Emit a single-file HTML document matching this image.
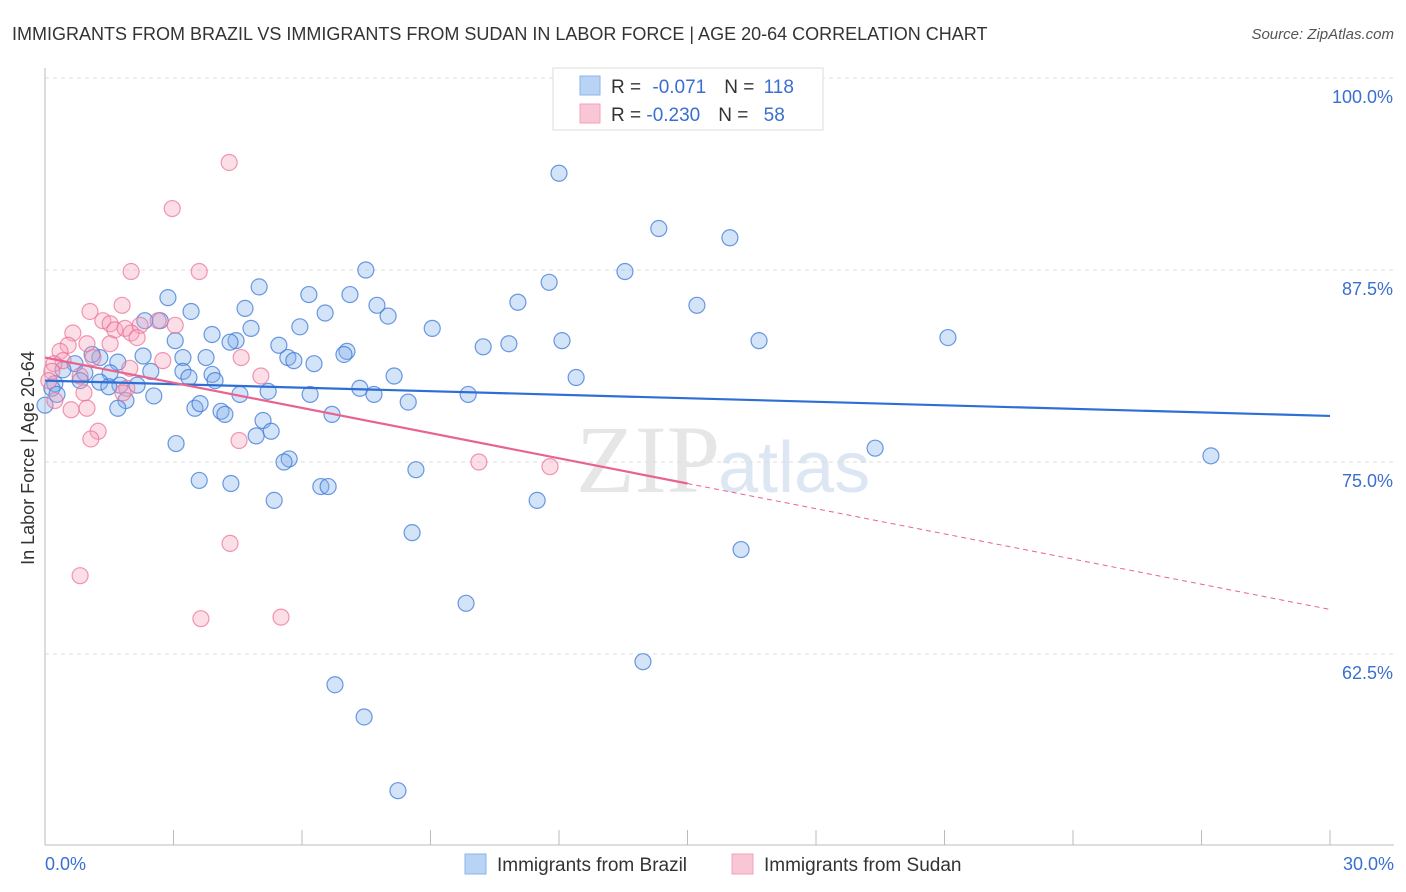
<!DOCTYPE html>
<html><head><meta charset="utf-8"><style>
body{margin:0;background:#fff;font-family:"Liberation Sans",sans-serif;}
#wrap{position:relative;width:1406px;height:892px;overflow:hidden;}
</style></head><body>
<div id="wrap">
<svg id="svg" width="1406" height="892" xmlns="http://www.w3.org/2000/svg">
<text x="12" y="40" font-size="18" fill="#333">IMMIGRANTS FROM BRAZIL VS IMMIGRANTS FROM SUDAN IN LABOR FORCE | AGE 20-64 CORRELATION CHART</text>
<text x="1394" y="39" font-size="15" fill="#555" font-style="italic" text-anchor="end">Source: ZipAtlas.com</text>
<text x="720" y="492" font-size="96" fill="#e6e6e6" font-family="Liberation Serif" text-anchor="end">ZIP</text>
<text x="718" y="492" font-size="72" fill="#dde6f3">atlas</text>
<g id="grid"></g>
<g id="axes"></g>
<g id="pts"></g>
<g id="trend"></g>
<text transform="translate(34,458) rotate(-90)" font-size="18" fill="#333" text-anchor="middle">In Labor Force | Age 20-64</text>
<g>
<rect x="553" y="68" width="270" height="62" fill="#fff" stroke="#ddd"/>
<rect x="580" y="76" width="20" height="19" fill="#b9d3f5" stroke="#8ab4ea"/>
<rect x="580" y="104" width="20" height="19" fill="#f9c6d5" stroke="#f1a2b9"/>
<text x="611" y="93" font-size="19" fill="#333">R = <tspan fill="#3a6fd0" dx="6">-0.071</tspan><tspan dx="18">N = </tspan><tspan fill="#3a6fd0" dx="4">118</tspan></text>
<text x="611" y="121" font-size="19" fill="#333">R = <tspan fill="#3a6fd0">-0.230</tspan><tspan dx="18">N = </tspan><tspan fill="#3a6fd0" dx="10">58</tspan></text>
</g>
<g>
<rect x="465" y="854" width="21" height="20" fill="#b9d3f5" stroke="#8ab4ea"/>
<text x="497" y="871" font-size="19" fill="#333">Immigrants from Brazil</text>
<rect x="732" y="854" width="21" height="20" fill="#f9c6d5" stroke="#f1a2b9"/>
<text x="764" y="871" font-size="19" fill="#333">Immigrants from Sudan</text>
</g>
</svg>
</div>
<script>
const brazilX=[12.0,14.33,15.99,7.49,13.54,11.77,5.0,2.87,6.16,7.12,11.04,15.22,4.67,3.41,7.75,8.01,6.54,5.95,9.04,4.81,3.9,4.46,4.32,3.04,12.07,16.67,21.08,10.83,10.23,2.33,2.69,7.05,6.98,5.46,3.76,3.22,5.67,5.81,6.28,2.29,1.28,1.7,0.7,1.1,0.93,1.52,0.42,2.47,3.22,3.9,3.36,3.97,8.15,12.4,0.23,0.82,1.75,1.28,2.15,1.49,2.54,4.55,5.21,7.35,7.68,6.19,8.48,9.88,1.89,1.7,3.5,3.62,4.11,4.2,5.09,6.7,4.93,5.28,3.06,19.38,27.22,5.7,5.58,8.66,3.6,4.34,6.44,6.61,5.35,11.49,8.57,16.25,9.83,13.96,6.77,7.45,8.24,0.16,0.28,0.0];
const brazilY=[93.8,90.2,89.6,87.5,87.4,86.7,86.4,85.7,85.9,85.9,85.4,85.2,85.0,84.8,85.2,84.5,84.7,83.8,83.7,83.7,83.3,82.9,82.8,82.9,82.9,82.9,83.1,82.7,82.5,84.2,84.2,82.2,82.0,82.6,81.8,81.8,81.8,81.6,81.4,81.9,81.8,81.5,81.4,82.0,80.8,80.8,81.0,80.9,80.9,80.7,80.5,80.3,80.6,80.5,80.1,80.3,80.0,80.2,80.0,79.9,79.3,79.4,79.6,79.8,79.4,79.4,78.9,79.4,79.0,78.5,78.5,78.8,78.3,78.1,77.7,78.1,76.7,77.0,76.2,75.9,75.4,75.2,75.0,74.5,73.8,73.6,73.4,73.4,72.5,72.5,70.4,69.3,65.8,62.0,60.5,58.4,53.6,79.8,79.4,78.7];
const sudanX=[4.3,2.97,2.01,3.6,1.8,1.05,1.35,1.52,1.63,1.87,2.22,2.64,3.04,0.65,0.98,1.52,2.01,2.15,0.54,0.35,0.42,1.12,4.58,2.75,0.21,0.16,0.82,1.98,1.91,5.04,1.82,0.23,0.91,0.61,0.98,1.24,1.07,4.53,10.13,11.79,4.32,0.82,3.64,5.51,0.09];
const sudanY=[94.5,91.5,87.4,87.4,85.2,84.8,84.2,84.0,83.6,83.7,83.9,84.2,83.9,83.4,82.7,82.7,83.4,83.1,82.6,82.2,81.6,81.8,81.8,81.6,81.4,80.9,80.6,81.1,79.8,80.6,79.5,79.0,79.5,78.4,78.5,77.0,76.5,76.4,75.0,74.7,69.7,67.6,64.8,64.9,80.3];
const trendBrazil=[80.3,78.0];
const trendSudan=[81.8,65.4];
const yTicks=[100,87.5,75,62.5];
const xTickLabels=["0.0%","30.0%"];
const X0=45,X1=1330,Y100=78,PX=192/12.5;
const sx=v=>X0+(v/30)*(X1-X0);
const sy=v=>Y100+(100-v)*PX;
const NS="http://www.w3.org/2000/svg";
function mk(tag,parent,attrs){const e=document.createElementNS(NS,tag);for(const k in attrs)e.setAttribute(k,attrs[k]);parent.appendChild(e);return e;}
const grid=document.getElementById('grid'),axes=document.getElementById('axes'),pts=document.getElementById('pts'),trend=document.getElementById('trend');
yTicks.forEach(t=>{
 const l=mk('line',grid,{x1:X0,x2:1394,y1:sy(t),y2:sy(t),stroke:'#ddd','stroke-dasharray':'4,4'});
 
 
 const tx=mk('text',axes,{x:1393,y:sy(t)+25,'font-size':18,fill:'#3a6fd0','text-anchor':'end'});
 tx.textContent=t.toFixed(1)+'%';
 
 
});
const ya=mk('line',axes,{x1:X0,x2:X0,y1:68,y2:845,stroke:'#bbb'});


const xa=mk('line',axes,{x1:X0,x2:1394,y1:845,y2:845,stroke:'#bbb'});


for(let i=0;i<=10;i++){const x=sx(i*3);const tk=mk('line',axes,{x1:x,x2:x,y1:830,y2:845,stroke:'#bbb'});
 
 }
[[0,'start',45],[30,'end',1394]].forEach((d,i)=>{const t=mk('text',axes,{x:d[2],y:870,'font-size':18,fill:'#3a6fd0','text-anchor':d[1]});t.textContent=xTickLabels[i];
 
 });
brazilX.forEach((x,i)=>{const c=mk('circle',pts,{cx:sx(x),cy:sy(brazilY[i]),r:8,fill:'rgba(130,175,235,0.35)',stroke:'rgba(60,120,215,0.75)','stroke-width':1.2});
 
 });
sudanX.forEach((x,i)=>{const c=mk('circle',pts,{cx:sx(x),cy:sy(sudanY[i]),r:8,fill:'rgba(245,160,185,0.35)',stroke:'rgba(235,110,150,0.7)','stroke-width':1.2});
 
 });
const tb=mk('line',trend,{x1:sx(0),y1:sy(trendBrazil[0]),x2:sx(30),y2:sy(trendBrazil[1]),stroke:'#2e6fd6','stroke-width':2.2});


const mid=trendSudan[0]+(trendSudan[1]-trendSudan[0])*0.5;
const ts=mk('line',trend,{x1:sx(0),y1:sy(trendSudan[0]),x2:sx(15),y2:sy(mid),stroke:'#e8648f','stroke-width':2.2});


const td=mk('line',trend,{x1:sx(15),y1:sy(mid),x2:sx(30),y2:sy(trendSudan[1]),stroke:'#e8648f','stroke-width':1,'stroke-dasharray':'5,4'});


</script>
</body></html>
